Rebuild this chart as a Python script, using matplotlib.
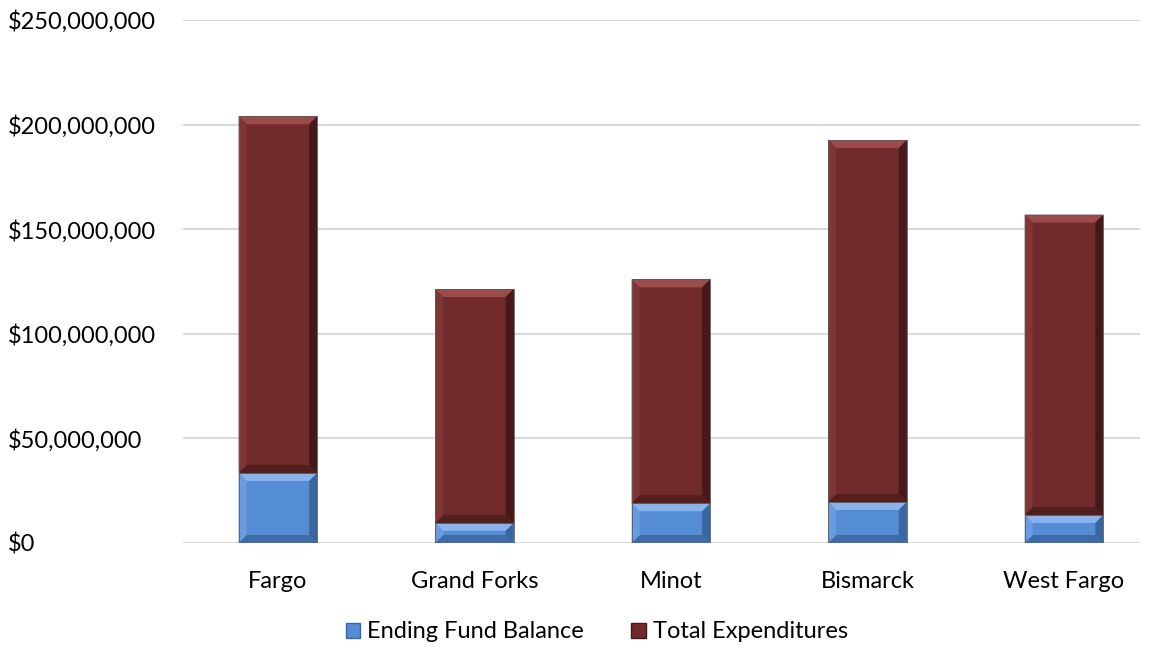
import matplotlib.pyplot as plt
import numpy as np
from matplotlib.patches import Polygon
from matplotlib.ticker import FuncFormatter

cities = ["Fargo", "Grand Forks", "Minot", "Bismarck", "West Fargo"]
ending_balance = [33.5e6, 9.6e6, 19.0e6, 19.6e6, 13.4e6]
total_expend = [170.5e6, 111.8e6, 107.0e6, 173.0e6, 143.6e6]

BLUE = {"face": "#548DD4", "top": "#8AB3EC", "left": "#6A9BDE", "right": "#3A66A0", "bottom": "#3F6CA6"}
RED = {"face": "#722B2B", "top": "#9C4B4B", "left": "#803535", "right": "#471818", "bottom": "#521E1E"}


def bevel_bar(ax, xc, bottom, height, width, col, bev=8):
    # bar drawn in pixel space so the bevel keeps a fixed size
    to_px = ax.transData
    x0, y0 = to_px.transform((xc - width / 2, bottom))
    x1, y1 = to_px.transform((xc + width / 2, bottom + height))
    b = min(bev, (y1 - y0) / 2.2, (x1 - x0) / 2.2)
    inv = to_px.inverted()

    def poly(pts, c):
        ax.add_patch(Polygon(inv.transform(pts), closed=True, facecolor=c,
                             edgecolor="none", zorder=3))

    poly([(x0, y0), (x1, y0), (x1, y1), (x0, y1)], col["face"])
    poly([(x0, y1), (x1, y1), (x1 - b, y1 - b), (x0 + b, y1 - b)], col["top"])
    poly([(x0, y0), (x1, y0), (x1 - b, y0 + b), (x0 + b, y0 + b)], col["bottom"])
    poly([(x0, y0), (x0 + b, y0 + b), (x0 + b, y1 - b), (x0, y1)], col["left"])
    poly([(x1, y0), (x1 - b, y0 + b), (x1 - b, y1 - b), (x1, y1)], col["right"])
    ax.add_patch(Polygon(inv.transform([(x0, y0), (x1, y0), (x1, y1), (x0, y1)]),
                         closed=True, facecolor="none", edgecolor="#5a5a5a",
                         lw=0.6, zorder=4))


plt.rcParams["font.family"] = ["Lato", "DejaVu Sans"]
fig = plt.figure(figsize=(11.54, 6.48), dpi=100)
ax = fig.add_axes([183 / 1154, 1 - 543 / 648, (1140 - 183) / 1154, (543 - 20) / 648])

x = np.arange(len(cities))
ax.set_xlim(-0.483, 4.387)
ax.set_ylim(0, 250e6)
ax.set_yticks(np.arange(0, 250e6 + 1, 50e6))
ax.yaxis.set_major_formatter(FuncFormatter(lambda v, p: f"${v:,.0f}"))
ax.set_xticks(x)
ax.set_xticklabels(cities)
ax.tick_params(axis="both", length=0, labelsize=17, colors="#000000")
ax.tick_params(axis="x", pad=20)
# labels start near the left edge of the figure (pad is in points)
ax.tick_params(axis="y", pad=(183 - 8) * 0.72)
for lab in ax.get_yticklabels():
    lab.set_horizontalalignment("left")
ax.grid(axis="y", color="#D9D9D9", lw=1.5)
ax.set_axisbelow(True)
for s in ax.spines.values():
    s.set_visible(False)

w = 0.40
for i in range(len(cities)):
    bevel_bar(ax, x[i], 0, ending_balance[i], w, BLUE)
    bevel_bar(ax, x[i], ending_balance[i], total_expend[i], w, RED)

handles = [plt.Rectangle((0, 0), 1, 1, facecolor=BLUE["face"], edgecolor=BLUE["right"]),
           plt.Rectangle((0, 0), 1, 1, facecolor=RED["face"], edgecolor=RED["right"])]
fig.legend(handles, ["Ending Fund Balance", "Total Expenditures"], loc="center",
           bbox_to_anchor=(597 / 1154, 1 - 632 / 648), ncol=2, frameon=False,
           fontsize=17, handlelength=0.6, handleheight=0.6, handletextpad=0.3,
           columnspacing=2.0)

fig.savefig("out.png", dpi=100)
